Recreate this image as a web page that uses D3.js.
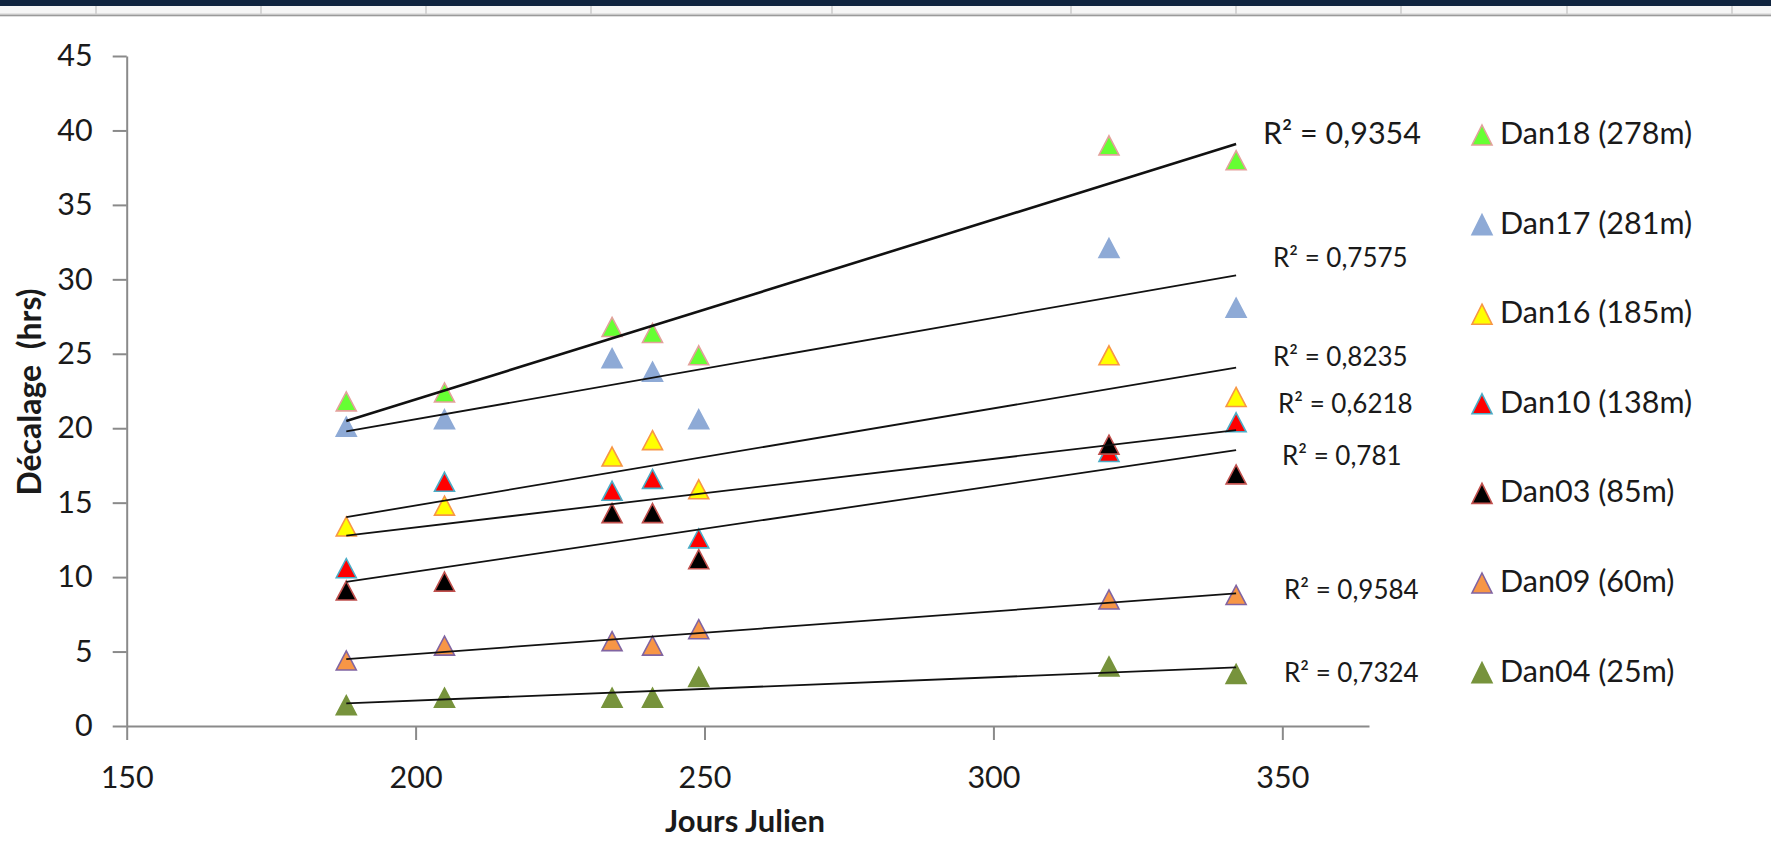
<!DOCTYPE html>
<html>
<head>
<meta charset="utf-8">
<script src="https://cdn.jsdelivr.net/npm/d3@7"></script>
<style>
  html, body { margin: 0; padding: 0; background: #ffffff; }
  svg { display: block; }
  text { font-family: Lato, "Open Sans", sans-serif; fill: #1a1a1a; }
</style>
</head>
<body>
<svg id="chart" width="1771" height="849"></svg>
<script>
// ---------------- DATA ----------------
const days = [188, 205, 234, 241, 249, 320, 342];   // Jours Julien

const dan18 = [21.8, 22.4, 26.8, 26.4, 24.9, 39.0, 38.0];
const dan17 = [20.1, 20.6, 24.7, 23.8, 20.6, 32.1, 28.1];
const dan16 = [13.4, 14.8, 18.1, 19.2, 15.9, 24.9, 22.1];
const dan10 = [10.6, 16.4, 15.8, 16.6, 12.6, 18.4, 20.4];
const dan03 = [9.1, 9.7, 14.3, 14.3, 11.2, 18.9, 16.9];
const dan09 = [4.4, 5.4, 5.7, 5.4, 6.5, 8.5, 8.8];
const dan04 = [1.4, 1.9, 1.9, 1.9, 3.3, 4.0, 3.5];

const seriesNames = ["Dan18 (278m)", "Dan17 (281m)", "Dan16 (185m)", "Dan10 (138m)",
                     "Dan03 (85m)", "Dan09 (60m)", "Dan04 (25m)"];
const seriesValues = [dan18, dan17, dan16, dan10, dan03, dan09, dan04];
const r2Labels = ["R² = 0,9354", "R² = 0,7575", "R² = 0,8235", "R² = 0,6218",
                  "R² = 0,781", "R² = 0,9584", "R² = 0,7324"];

const xTicks = [150, 200, 250, 300, 350];
const yTicks = [0, 5, 10, 15, 20, 25, 30, 35, 40, 45];
const xTitle = "Jours Julien";
const yTitle = "Décalage  (hrs)";

// ---------------- STYLE / LAYOUT ----------------
const fills   = ["#66ff33", "#8eaad6", "#ffff00", "#ff0000", "#000000", "#f79646", "#77933c"];
const strokes = ["#e3a19b", "#8eaad6", "#f79646", "#4bacc6", "#c0504d", "#8064a2", "#77933c"];
const r2Pos = [ // left x, baseline y, font size
  [1263, 144, 30.5], [1273, 267, 26], [1273, 366, 26], [1278, 413, 26],
  [1282, 465, 26], [1284, 599, 26], [1284, 682, 26]
];
const stripLines = [96, 261, 426, 591, 832, 1071, 1236, 1401, 1567, 1732];

const svg = d3.select("#chart");

// top spreadsheet strip (decoration)
svg.append("rect").attr("x", 0).attr("y", 0).attr("width", 1771).attr("height", 6).attr("fill", "#10243f");
svg.append("rect").attr("x", 0).attr("y", 6).attr("width", 1771).attr("height", 8).attr("fill", "#f6f6f6");
svg.selectAll("line.strip").data(stripLines).enter().append("line")
  .attr("x1", d => d).attr("x2", d => d).attr("y1", 6).attr("y2", 14)
  .attr("stroke", "#d6d6d6").attr("stroke-width", 2);
svg.append("rect").attr("x", 0).attr("y", 13.5).attr("width", 1771).attr("height", 1.2).attr("fill", "#cfcfcf");
svg.append("rect").attr("x", 0).attr("y", 14.7).attr("width", 1771).attr("height", 1.6).attr("fill", "#9a9a9a");

// scales
const x = d3.scaleLinear().domain([150, 365]).range([126.7, 1369]);
const y = d3.scaleLinear().domain([0, 45]).range([726, 56]);

// axes
const axisColor = "#8a8a8a";
const gx = svg.append("g").attr("transform", `translate(0,${y(0)})`)
  .call(d3.axisBottom(x).tickValues(xTicks).tickSize(14).tickSizeOuter(0).tickPadding(26).tickFormat(d3.format("d")));
const gy = svg.append("g").attr("transform", `translate(${x(150)},0)`)
  .call(d3.axisLeft(y).tickValues(yTicks).tickSize(14).tickSizeOuter(0).tickPadding(20).tickFormat(d3.format("d")));
[gx, gy].forEach(g => {
  g.select(".domain").attr("stroke", axisColor).attr("stroke-width", 2);
  g.selectAll(".tick line").attr("stroke", axisColor).attr("stroke-width", 2);
  g.selectAll(".tick text").style("font-family", "Lato, sans-serif").style("font-size", "30.5px").attr("fill", "#1a1a1a");
});

// axis titles
svg.append("text").attr("x", x(257)).attr("y", 832).attr("text-anchor", "middle")
  .style("font-weight", "bold").style("font-size", "31px").text(xTitle);
svg.append("text").attr("transform", `translate(41,392) rotate(-90)`).attr("text-anchor", "middle")
  .style("font-weight", "bold").style("font-size", "32px").style("white-space", "pre").text(yTitle);

// triangle marker
function tri(cx, cy, w, h) {
  return `M${cx},${cy - h / 2} L${cx + w / 2},${cy + h / 2} L${cx - w / 2},${cy + h / 2} Z`;
}

// markers
seriesValues.forEach((vals, i) => {
  svg.append("g").selectAll("path").data(vals).enter().append("path")
    .attr("d", (v, j) => tri(x(days[j]), y(v), 20, 19))
    .attr("fill", fills[i]).attr("stroke", strokes[i]).attr("stroke-width", 1.6)
    .attr("stroke-linejoin", "miter");
});

// linear trend lines (least squares)
function fit(xs, ys) {
  const n = xs.length, mx = d3.mean(xs), my = d3.mean(ys);
  let sxy = 0, sxx = 0;
  for (let k = 0; k < n; k++) { sxy += (xs[k] - mx) * (ys[k] - my); sxx += (xs[k] - mx) ** 2; }
  const b = sxy / sxx; return { a: my - b * mx, b };
}
const line = d3.line().x(d => x(d[0])).y(d => y(d[1]));
seriesValues.forEach((vals, i) => {
  const f = fit(days, vals);
  const x0 = d3.min(days), x1 = d3.max(days);
  svg.append("path").datum([[x0, f.a + f.b * x0], [x1, f.a + f.b * x1]])
    .attr("d", line).attr("fill", "none")
    .attr("stroke", "#111").attr("stroke-width", i === 0 ? 2.6 : 1.8);
});

// R² labels
r2Labels.forEach((t, i) => {
  svg.append("text").attr("x", r2Pos[i][0]).attr("y", r2Pos[i][1])
    .style("font-size", r2Pos[i][2] + "px").text(t);
});

// legend
const legendX = 1482, legendY0 = 144, legendStep = 89.6;
seriesNames.forEach((name, i) => {
  const by = legendY0 + i * legendStep;
  svg.append("path").attr("d", tri(legendX, by - 9, 20, 20))
    .attr("fill", fills[i]).attr("stroke", strokes[i]).attr("stroke-width", 1.6);
  svg.append("text").attr("x", legendX + 18).attr("y", by)
    .style("font-size", "30.5px").text(name);
});
</script>
</body>
</html>
